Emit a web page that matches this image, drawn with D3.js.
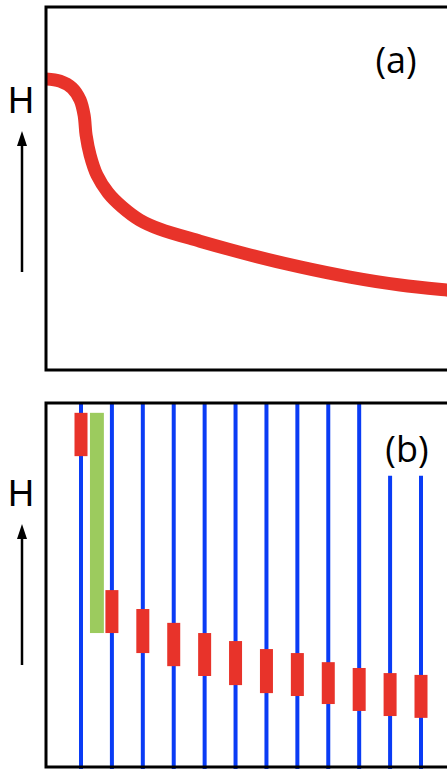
<!DOCTYPE html>
<html>
<head>
<meta charset="utf-8">
<script src="https://cdn.jsdelivr.net/npm/d3@7"></script>
<style>
  html, body { margin: 0; padding: 0; background: #fff; }
  svg { display: block; }
</style>
</head>
<body>
<div id="chart"></div>
<script>
// panel (a): magnetisation-like curve, field (0..10) vs H (0..10)
const curveField = [0, 0.35, 0.65, 0.85, 0.95, 1.0, 1.1, 1.27, 1.55, 1.9, 2.34, 2.84, 3.84, 5.09, 6.33, 7.58, 8.83, 10, 10.4];
const curveH     = [8.02, 7.96, 7.77, 7.44, 7.02, 6.47, 5.92, 5.37, 4.88, 4.49, 4.13, 3.88, 3.55, 3.17, 2.84, 2.56, 2.34, 2.2, 2.16];

// panel (b): step index, vertical line tops, red bar ranges
const steps     = [1, 2, 3, 4, 5, 6, 7, 8, 9, 10, 11, 12];
const lineTop   = [10, 10, 10, 10, 10, 10, 10, 10, 10, 10, 8.0, 8.0];
const barHigh   = [9.73, 4.86, 4.34, 3.96, 3.68, 3.46, 3.24, 3.13, 2.88, 2.72, 2.58, 2.53];
const barLow    = [8.54, 3.68, 3.13, 2.77, 2.50, 2.25, 2.03, 1.95, 1.73, 1.54, 1.40, 1.35];
// green bar between step 1 and 2
const greenFrom = [1.29];
const greenTo   = [1.74];
const greenHigh = [9.73];
const greenLow  = [3.68];

const labels = ["(a)", "(b)"];

const W = 447, H = 771;
const left = 46;
const RED = "#e8332a", BLUE = "#0a3cf5", GREEN = "#9ccb5e";

const svg = d3.select("#chart").append("svg")
    .attr("width", W)
    .attr("height", H);

svg.append("rect").attr("width", W).attr("height", H).attr("fill", "#fff");

// ---------- panel (a) ----------
const a = { top: 7, bottom: 370 };
const xA = d3.scaleLinear().domain([0, 10]).range([left, W]);
const yA = d3.scaleLinear().domain([0, 10]).range([a.bottom, a.top]);

svg.append("clipPath").attr("id", "clipA")
    .append("rect")
    .attr("x", left).attr("y", a.top)
    .attr("width", W - left + 20).attr("height", a.bottom - a.top);

const curveData = curveField.map((f, i) => ({ f, h: curveH[i] }));
const line = d3.line()
    .x(d => xA(d.f))
    .y(d => yA(d.h))
    .curve(d3.curveCatmullRom.alpha(0.5));

svg.append("path")
    .datum(curveData)
    .attr("clip-path", "url(#clipA)")
    .attr("d", line)
    .attr("fill", "none")
    .attr("stroke", RED)
    .attr("stroke-width", 13);

svg.append("path")
    .attr("d", `M${W + 10},${a.top} H${left} V${a.bottom} H${W + 10}`)
    .attr("fill", "none")
    .attr("stroke", "#000")
    .attr("stroke-width", 3);

// ---------- panel (b) ----------
const b = { top: 403, bottom: 767 };
const xB = d3.scaleLinear().domain([1, 12]).range([81, 421]);
const yB = d3.scaleLinear().domain([0, 10]).range([b.bottom, b.top]);

const stepData = steps.map((s, i) => ({ s, top: lineTop[i], hi: barHigh[i], lo: barLow[i] }));

svg.append("g").selectAll("line")
    .data(stepData)
    .join("line")
    .attr("x1", d => xB(d.s))
    .attr("x2", d => xB(d.s))
    .attr("y1", d => yB(d.top))
    .attr("y2", yB(0) + 2)
    .attr("stroke", BLUE)
    .attr("stroke-width", 4);

svg.append("g").selectAll("rect")
    .data(greenFrom.map((g, i) => ({ from: g, to: greenTo[i], hi: greenHigh[i], lo: greenLow[i] })))
    .join("rect")
    .attr("x", d => xB(d.from))
    .attr("width", d => xB(d.to) - xB(d.from))
    .attr("y", d => yB(d.hi))
    .attr("height", d => yB(d.lo) - yB(d.hi))
    .attr("fill", GREEN);

const barW = 13;
svg.append("g").selectAll("rect")
    .data(stepData)
    .join("rect")
    .attr("x", d => xB(d.s) - barW / 2)
    .attr("width", barW)
    .attr("y", d => yB(d.hi))
    .attr("height", d => yB(d.lo) - yB(d.hi))
    .attr("fill", RED);

svg.append("path")
    .attr("d", `M${W + 10},${b.top} H${left} V${b.bottom} H${W + 10}`)
    .attr("fill", "none")
    .attr("stroke", "#000")
    .attr("stroke-width", 3);

// ---------- H axis labels with arrows ----------
const defs = svg.append("defs");
defs.append("marker")
    .attr("id", "arrow")
    .attr("viewBox", "0 0 10 14")
    .attr("refX", 5).attr("refY", 2)
    .attr("markerWidth", 10).attr("markerHeight", 14)
    .attr("markerUnits", "userSpaceOnUse")
    .attr("orient", "auto-start-reverse")
    .append("path")
    .attr("d", "M0,14 L5,0 L10,14 Z")
    .attr("fill", "#000");

const hLabels = [
    { y: 113, y1: 272, y2: 131 },
    { y: 506, y1: 665, y2: 524 }
];
hLabels.forEach(d => {
    svg.append("text")
        .attr("x", 21).attr("y", d.y)
        .attr("text-anchor", "middle")
        .attr("font-family", "Liberation Sans, Arial, sans-serif")
        .attr("font-size", 36)
        .attr("fill", "#000")
        .text("H");
    svg.append("line")
        .attr("x1", 22).attr("x2", 22)
        .attr("y1", d.y1).attr("y2", d.y2 + 12)
        .attr("stroke", "#000")
        .attr("stroke-width", 2.5);
    svg.append("path")
        .attr("d", `M22,${d.y2} L27,${d.y2 + 15} L17,${d.y2 + 15} Z`)
        .attr("fill", "#000");
});

// panel tags
svg.append("text")
    .attr("x", 396).attr("y", 73)
    .attr("text-anchor", "middle")
    .attr("font-family", "Open Sans, sans-serif")
    .attr("font-size", 36)
    .text(labels[0]);

svg.append("text")
    .attr("x", 407).attr("y", 462)
    .attr("text-anchor", "middle")
    .attr("font-family", "Open Sans, sans-serif")
    .attr("font-size", 36)
    .text(labels[1]);
</script>
</body>
</html>
